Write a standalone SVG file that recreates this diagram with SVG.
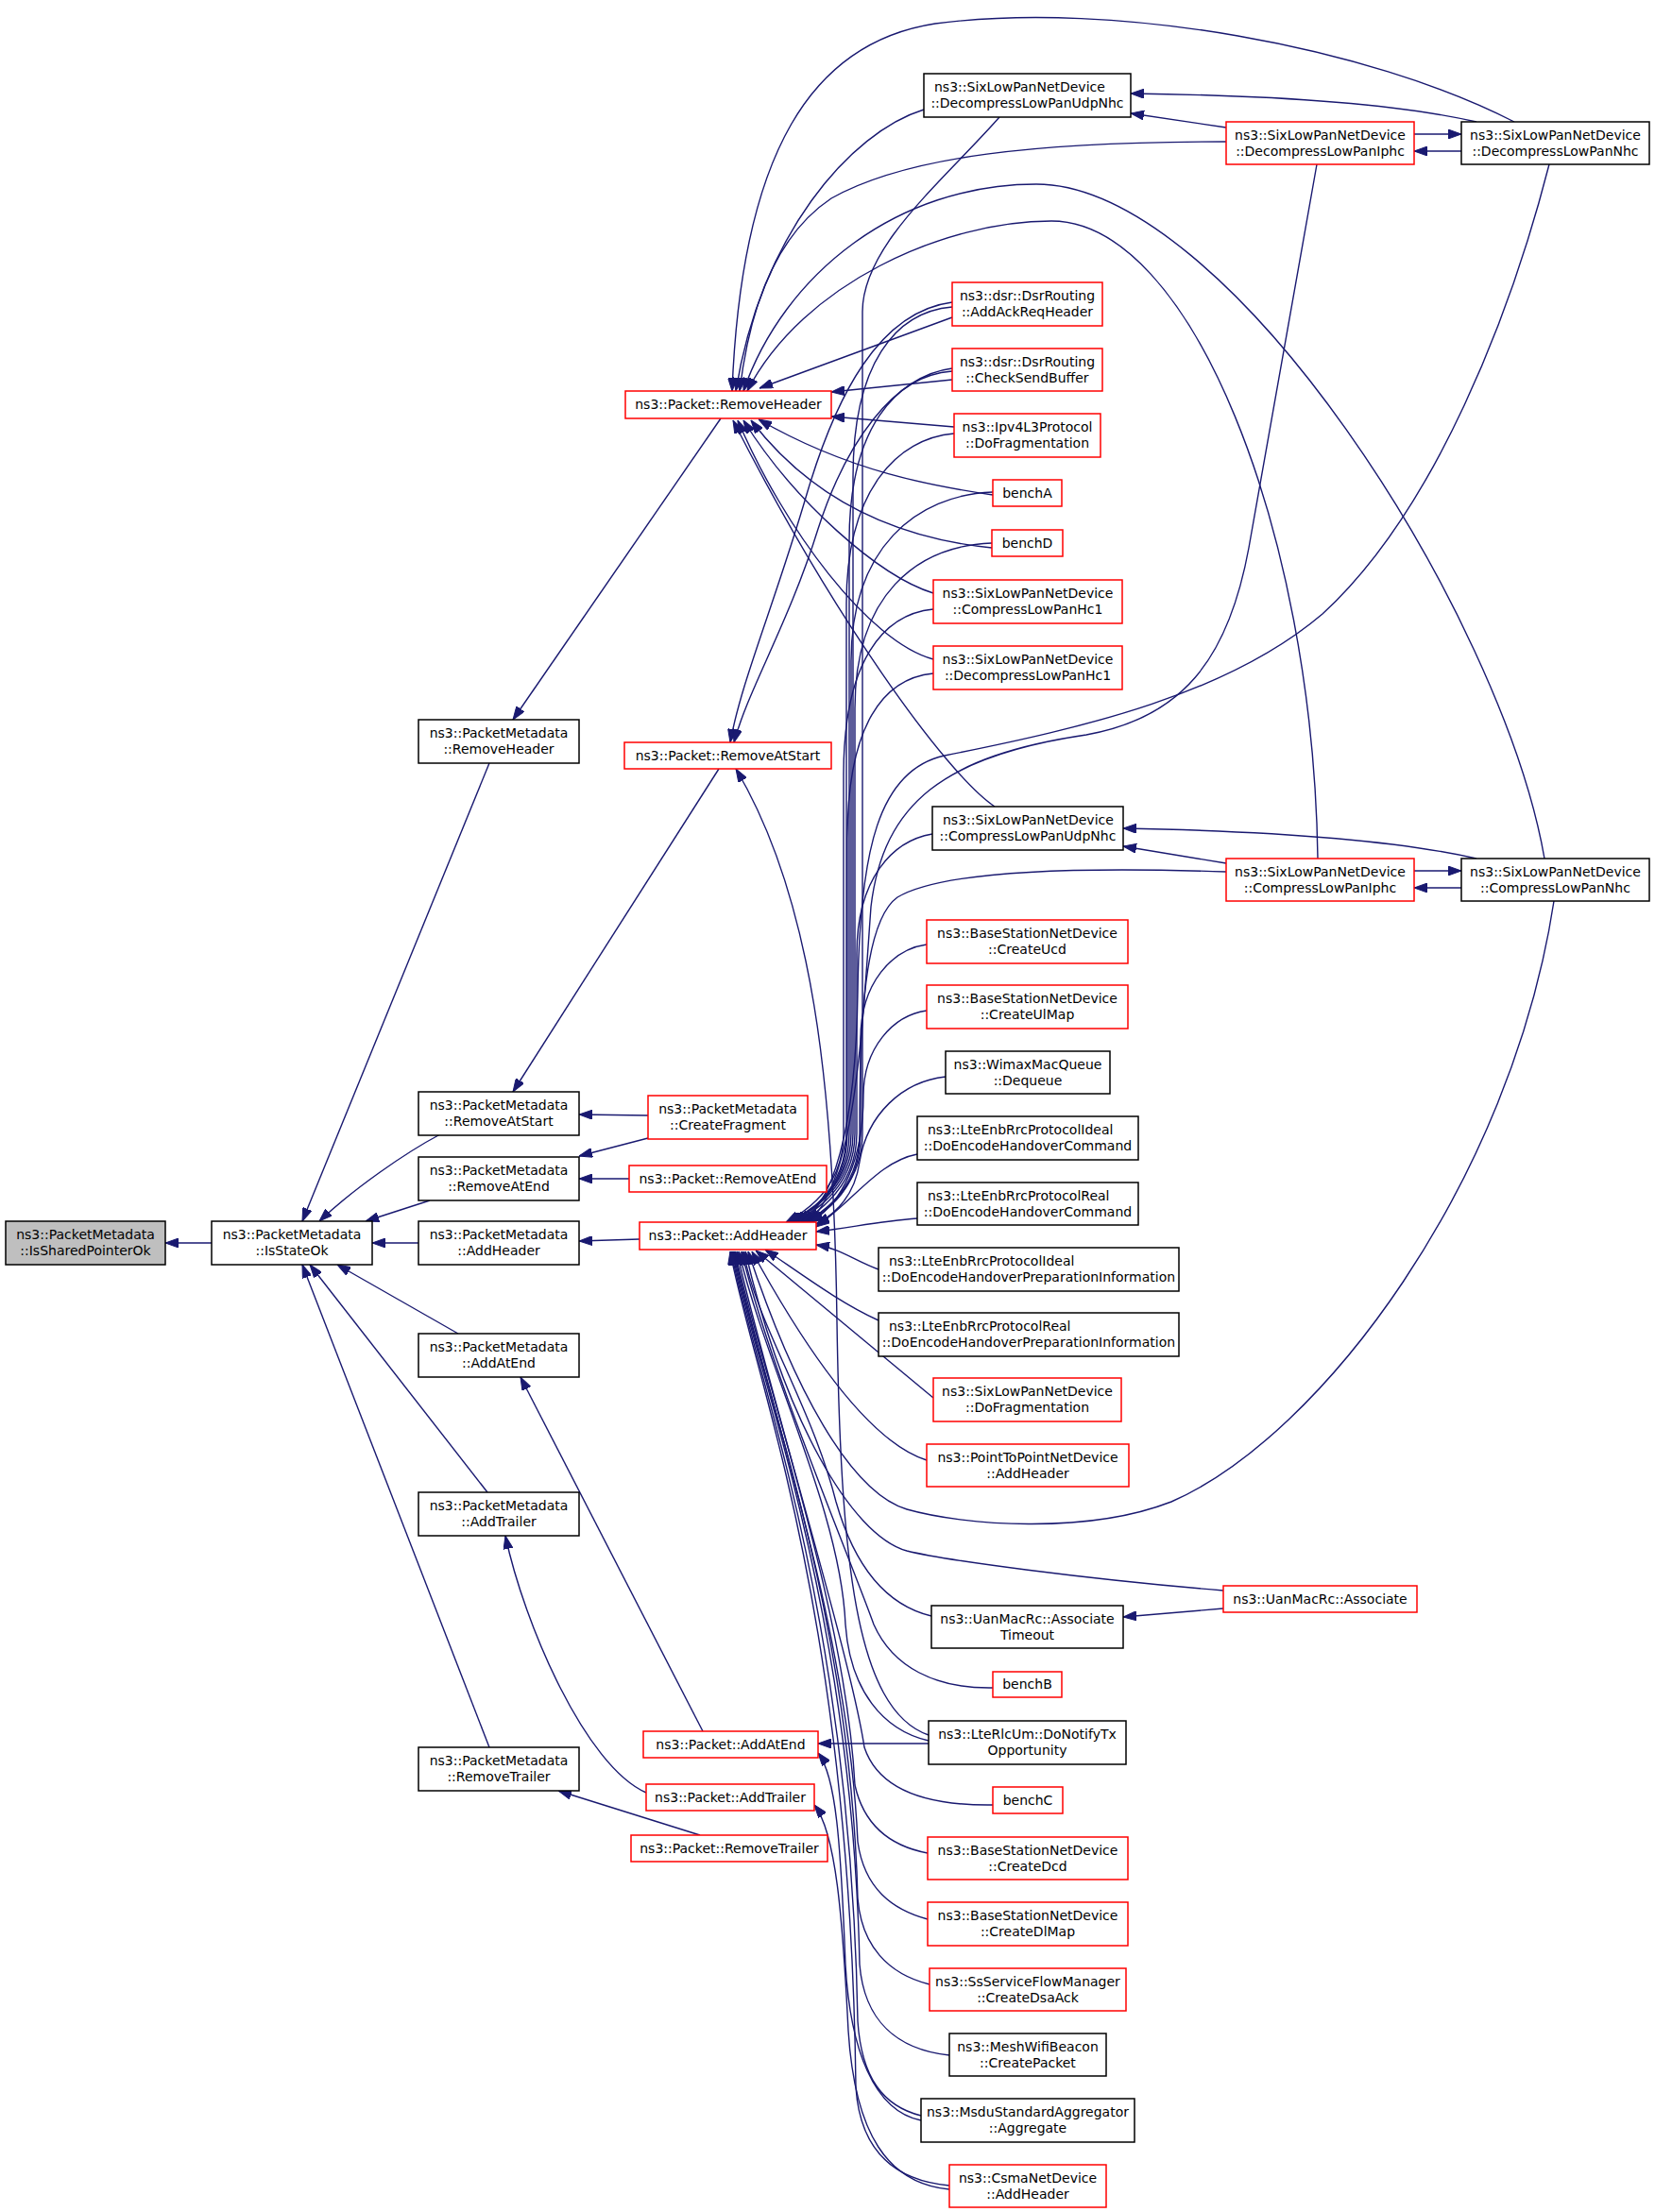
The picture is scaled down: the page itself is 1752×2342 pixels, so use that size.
<svg xmlns="http://www.w3.org/2000/svg" width="1752" height="2342" viewBox="0 0 1752 2342">
<defs>
<style>
.nd rect{fill:#ffffff;stroke:#000000;stroke-width:1.5}
.nd.red rect{stroke:#ff0000}
.nd.root rect{fill:#bfbfbf}
.nd text{font-family:"DejaVu Sans","Liberation Sans",sans-serif;font-size:14px;fill:#000000}
.c{text-anchor:middle}
.l{text-anchor:start}
#edges path{fill:none;stroke:#191970;stroke-width:1.4;marker-end:url(#ah)}
</style>
<marker id="ah" viewBox="0 0 14 10" refX="14" refY="5" markerWidth="14" markerHeight="10" markerUnits="userSpaceOnUse" orient="auto">
<path d="M0,0 L14,5 L0,10 z" fill="#191970" stroke="#191970" stroke-width="1"/>
</marker>
</defs>
<rect x="0" y="0" width="1752" height="2342" fill="#ffffff"/>
<g id="edges">
<path d="M224,1316 L175,1316"/>
<path d="M518,808 L320,1293"/>
<path d="M466,1201 C430,1220 375,1258 338,1293"/>
<path d="M455,1271 L387,1293"/>
<path d="M443,1316 L394,1316"/>
<path d="M485,1412 L357,1339"/>
<path d="M516,1580 L328,1339"/>
<path d="M518,1850 L320,1339"/>
<path d="M763,443 L543,762"/>
<path d="M761,814 L543,1156"/>
<path d="M686,1181 L613,1180"/>
<path d="M686,1205 L613,1224"/>
<path d="M666,1248 L613,1248"/>
<path d="M677,1312 L613,1314"/>
<path d="M744,1833 L551,1458"/>
<path d="M684,1898 C620,1870 555,1720 535,1626"/>
<path d="M741,1943 L591,1896"/>
<path d="M1603,129 C1450,50 1180,0 990,25 C860,45 785,160 775,414"/>
<path d="M978,116 C900,140 805,250 779,414"/>
<path d="M1298,150 C1100,150 960,165 880,210 C820,250 793,330 783,414"/>
<path d="M1635,909 C1590,650 1300,195 1097,195 C950,195 830,290 787,414"/>
<path d="M1395,909 C1390,560 1260,234 1113,234 C1000,234 850,300 791,414"/>
<path d="M1008,336 L804,411"/>
<path d="M1008,402 L880,415"/>
<path d="M1010,452 L880,441"/>
<path d="M1051,524 C990,515 900,500 803,444"/>
<path d="M1050,580 C950,570 860,530 795,445"/>
<path d="M988,628 C930,610 840,530 787,445"/>
<path d="M988,698 C920,680 830,560 781,445"/>
<path d="M1053,854 C1000,818 880,650 776,445"/>
<path d="M1008,320 C930,330 885,420 855,520 C820,640 785,720 773,786"/>
<path d="M1008,390 C945,398 895,470 866,560 C835,660 792,730 777,786"/>
<path d="M983,1837 C905,1810 890,1650 886,1400 C883,1150 860,950 779,814"/>
<path d="M1058,124 C1000,190 913,260 913,330 L913,1200 C913,1250 880,1280 852,1294"/>
<path d="M1394,174 L1322,580 C1300,700 1250,760 1150,778 C1000,800 935,850 922,960 C912,1100 905,1250 856,1294"/>
<path d="M1640,174 C1600,330 1520,540 1400,650 C1300,735 1150,770 1000,800 C930,815 910,900 908,1050 C906,1200 880,1275 848,1294"/>
<path d="M1008,325 C948,330 903,385 903,505 L903,1200 C903,1245 875,1275 836,1294"/>
<path d="M1008,393 C948,398 899,453 899,573 L899,1200 C899,1245 873,1275 838,1294"/>
<path d="M1010,459 C950,464 896,519 896,639 L896,1200 C896,1245 871,1275 840,1294"/>
<path d="M1051,521 C970,524 901,580 901,700 L901,1200 C901,1245 873,1275 834,1294"/>
<path d="M1050,575 C970,578 905,630 905,750 L905,1200 C905,1245 877,1275 842,1294"/>
<path d="M988,645 C935,650 893,700 893,820 L893,1200 C893,1245 868,1275 832,1294"/>
<path d="M988,713 C935,718 897,768 897,888 L897,1200 C897,1245 872,1275 844,1294"/>
<path d="M987,883 C945,890 907,930 907,1010 L907,1200 C907,1245 880,1275 848,1294"/>
<path d="M1298,923 C1150,918 1000,920 950,950 C915,975 910,1080 910,1200 C910,1250 882,1278 852,1294"/>
<path d="M981,1000 C945,1005 911,1040 911,1100 L911,1200 C911,1250 884,1278 855,1294"/>
<path d="M981,1070 C945,1075 914,1110 914,1160 C914,1230 890,1275 858,1294"/>
<path d="M1001,1140 C955,1145 918,1180 910,1230 C905,1265 885,1285 864,1296"/>
<path d="M971,1222 C930,1230 905,1270 864,1299"/>
<path d="M971,1290 C930,1293 900,1300 864,1304"/>
<path d="M930,1344 C905,1335 890,1322 864,1318"/>
<path d="M930,1398 C890,1380 850,1350 810,1323"/>
<path d="M988,1480 L800,1324"/>
<path d="M981,1546 C930,1530 870,1460 796,1325"/>
<path d="M1645,954 C1600,1250 1400,1520 1240,1590 C1150,1625 1020,1615 960,1598 C900,1580 840,1470 792,1325"/>
<path d="M1295,1684 C1150,1672 1000,1652 960,1642 C900,1625 830,1500 789,1325"/>
<path d="M986,1711 C940,1700 905,1660 885,1590 C860,1490 800,1400 787,1325"/>
<path d="M1051,1787 C990,1788 945,1765 925,1720 C900,1650 815,1450 785,1325"/>
<path d="M983,1843 C935,1832 900,1790 895,1720 C890,1600 812,1450 782,1325"/>
<path d="M1051,1911 C980,1912 930,1895 915,1850 C900,1750 810,1460 780,1325"/>
<path d="M982,1962 C945,1955 915,1935 905,1890 C895,1700 808,1460 778,1325"/>
<path d="M982,2032 C945,2022 915,2000 908,1950 C898,1720 806,1460 777,1325"/>
<path d="M984,2101 C940,2090 912,2060 908,2010 C900,1700 804,1460 776,1325"/>
<path d="M1005,2176 C950,2170 915,2140 910,2080 C902,1700 802,1460 775,1325"/>
<path d="M975,2240 C935,2230 912,2200 908,2140 C900,1700 800,1460 774,1325"/>
<path d="M1005,2314 C940,2308 910,2270 906,2210 C900,1700 798,1460 773,1325"/>
<path d="M983,1846 L866,1846"/>
<path d="M975,2245 C925,2235 900,2170 895,2080 C890,1950 885,1880 866,1856"/>
<path d="M1005,2318 C940,2312 905,2260 898,2150 C892,2030 885,1940 862,1911"/>
<path d="M1298,135 L1197,120"/>
<path d="M1563,129 C1480,110 1350,101 1197,99"/>
<path d="M1497,142 L1547,142"/>
<path d="M1547,160 L1497,160"/>
<path d="M1563,909 C1480,890 1350,880 1189,877"/>
<path d="M1298,914 L1189,896"/>
<path d="M1497,922 L1547,922"/>
<path d="M1547,940 L1497,940"/>
<path d="M1295,1703 L1189,1712"/>
</g>
<g id="n_issharedpointerok" class="nd root"><rect x="6" y="1293" width="169" height="46"/><text class="c" x="90.5" y="1312">ns3::PacketMetadata</text><text class="c" x="90.5" y="1329">::IsSharedPointerOk</text></g>
<g id="n_isstateok" class="nd"><rect x="224" y="1293" width="170" height="46"/><text class="c" x="309" y="1312">ns3::PacketMetadata</text><text class="c" x="309" y="1329">::IsStateOk</text></g>
<g id="n_pm_removeheader" class="nd"><rect x="443" y="762" width="170" height="46"/><text class="c" x="528" y="781">ns3::PacketMetadata</text><text class="c" x="528" y="798">::RemoveHeader</text></g>
<g id="n_pm_removeatstart" class="nd"><rect x="443" y="1156" width="170" height="46"/><text class="c" x="528" y="1175">ns3::PacketMetadata</text><text class="c" x="528" y="1192">::RemoveAtStart</text></g>
<g id="n_pm_removeatend" class="nd"><rect x="443" y="1225" width="170" height="46"/><text class="c" x="528" y="1244">ns3::PacketMetadata</text><text class="c" x="528" y="1261">::RemoveAtEnd</text></g>
<g id="n_pm_addheader" class="nd"><rect x="443" y="1293" width="170" height="46"/><text class="c" x="528" y="1312">ns3::PacketMetadata</text><text class="c" x="528" y="1329">::AddHeader</text></g>
<g id="n_pm_addatend" class="nd"><rect x="443" y="1412" width="170" height="46"/><text class="c" x="528" y="1431">ns3::PacketMetadata</text><text class="c" x="528" y="1448">::AddAtEnd</text></g>
<g id="n_pm_addtrailer" class="nd"><rect x="443" y="1580" width="170" height="46"/><text class="c" x="528" y="1599">ns3::PacketMetadata</text><text class="c" x="528" y="1616">::AddTrailer</text></g>
<g id="n_pm_removetrailer" class="nd"><rect x="443" y="1850" width="170" height="46"/><text class="c" x="528" y="1869">ns3::PacketMetadata</text><text class="c" x="528" y="1886">::RemoveTrailer</text></g>
<g id="n_p_removeheader" class="nd red"><rect x="662" y="414" width="218" height="29"/><text class="c" x="771" y="433">ns3::Packet::RemoveHeader</text></g>
<g id="n_p_removeatstart" class="nd red"><rect x="661" y="786" width="219" height="28"/><text class="c" x="770.5" y="805">ns3::Packet::RemoveAtStart</text></g>
<g id="n_pm_createfragment" class="nd red"><rect x="686" y="1160" width="169" height="46"/><text class="c" x="770.5" y="1179">ns3::PacketMetadata</text><text class="c" x="770.5" y="1196">::CreateFragment</text></g>
<g id="n_p_removeatend" class="nd red"><rect x="666" y="1234" width="209" height="28"/><text class="c" x="770.5" y="1253">ns3::Packet::RemoveAtEnd</text></g>
<g id="n_p_addheader" class="nd red"><rect x="677" y="1294" width="187" height="29"/><text class="c" x="770.5" y="1313">ns3::Packet::AddHeader</text></g>
<g id="n_p_addatend" class="nd red"><rect x="681" y="1833" width="185" height="28"/><text class="c" x="773.5" y="1852">ns3::Packet::AddAtEnd</text></g>
<g id="n_p_addtrailer" class="nd red"><rect x="684" y="1889" width="178" height="28"/><text class="c" x="773" y="1908">ns3::Packet::AddTrailer</text></g>
<g id="n_p_removetrailer" class="nd red"><rect x="668" y="1943" width="208" height="28"/><text class="c" x="772" y="1962">ns3::Packet::RemoveTrailer</text></g>
<g id="n_decompudpnhc" class="nd"><rect x="978" y="78" width="219" height="46"/><text class="l" x="989" y="97">ns3::SixLowPanNetDevice</text><text class="c" x="1087.5" y="114">::DecompressLowPanUdpNhc</text></g>
<g id="n_decompiphc" class="nd red"><rect x="1298" y="129" width="199" height="45"/><text class="c" x="1397.5" y="148">ns3::SixLowPanNetDevice</text><text class="c" x="1397.5" y="165">::DecompressLowPanIphc</text></g>
<g id="n_decompnhc" class="nd"><rect x="1547" y="129" width="199" height="45"/><text class="c" x="1646.5" y="148">ns3::SixLowPanNetDevice</text><text class="c" x="1646.5" y="165">::DecompressLowPanNhc</text></g>
<g id="n_addackreqheader" class="nd red"><rect x="1008" y="299" width="159" height="46"/><text class="c" x="1087.5" y="318">ns3::dsr::DsrRouting</text><text class="c" x="1087.5" y="335">::AddAckReqHeader</text></g>
<g id="n_checksendbuffer" class="nd red"><rect x="1008" y="369" width="159" height="45"/><text class="c" x="1087.5" y="388">ns3::dsr::DsrRouting</text><text class="c" x="1087.5" y="405">::CheckSendBuffer</text></g>
<g id="n_ipv4dofrag" class="nd red"><rect x="1010" y="438" width="155" height="46"/><text class="c" x="1087.5" y="457">ns3::Ipv4L3Protocol</text><text class="c" x="1087.5" y="474">::DoFragmentation</text></g>
<g id="n_bencha" class="nd red"><rect x="1051" y="508" width="73" height="28"/><text class="c" x="1087.5" y="527">benchA</text></g>
<g id="n_benchd" class="nd red"><rect x="1050" y="561" width="75" height="28"/><text class="c" x="1087.5" y="580">benchD</text></g>
<g id="n_comphc1" class="nd red"><rect x="988" y="614" width="200" height="46"/><text class="c" x="1088" y="633">ns3::SixLowPanNetDevice</text><text class="c" x="1088" y="650">::CompressLowPanHc1</text></g>
<g id="n_decomphc1" class="nd red"><rect x="988" y="684" width="200" height="46"/><text class="c" x="1088" y="703">ns3::SixLowPanNetDevice</text><text class="c" x="1088" y="720">::DecompressLowPanHc1</text></g>
<g id="n_compudpnhc" class="nd"><rect x="987" y="854" width="202" height="46"/><text class="l" x="998" y="873">ns3::SixLowPanNetDevice</text><text class="c" x="1088" y="890">::CompressLowPanUdpNhc</text></g>
<g id="n_compiphc" class="nd red"><rect x="1298" y="909" width="199" height="45"/><text class="c" x="1397.5" y="928">ns3::SixLowPanNetDevice</text><text class="c" x="1397.5" y="945">::CompressLowPanIphc</text></g>
<g id="n_compnhc" class="nd"><rect x="1547" y="909" width="199" height="45"/><text class="c" x="1646.5" y="928">ns3::SixLowPanNetDevice</text><text class="c" x="1646.5" y="945">::CompressLowPanNhc</text></g>
<g id="n_createucd" class="nd red"><rect x="981" y="974" width="213" height="46"/><text class="c" x="1087.5" y="993">ns3::BaseStationNetDevice</text><text class="c" x="1087.5" y="1010">::CreateUcd</text></g>
<g id="n_createulmap" class="nd red"><rect x="981" y="1043" width="213" height="46"/><text class="c" x="1087.5" y="1062">ns3::BaseStationNetDevice</text><text class="c" x="1087.5" y="1079">::CreateUlMap</text></g>
<g id="n_dequeue" class="nd"><rect x="1001" y="1113" width="174" height="45"/><text class="c" x="1088" y="1132">ns3::WimaxMacQueue</text><text class="c" x="1088" y="1149">::Dequeue</text></g>
<g id="n_lteideal_hc" class="nd"><rect x="971" y="1182" width="234" height="46"/><text class="l" x="982" y="1201">ns3::LteEnbRrcProtocolIdeal</text><text class="c" x="1088" y="1218">::DoEncodeHandoverCommand</text></g>
<g id="n_ltereal_hc" class="nd"><rect x="971" y="1252" width="234" height="45"/><text class="l" x="982" y="1271">ns3::LteEnbRrcProtocolReal</text><text class="c" x="1088" y="1288">::DoEncodeHandoverCommand</text></g>
<g id="n_lteideal_hp" class="nd"><rect x="930" y="1321" width="318" height="46"/><text class="l" x="941" y="1340">ns3::LteEnbRrcProtocolIdeal</text><text class="c" x="1089" y="1357">::DoEncodeHandoverPreparationInformation</text></g>
<g id="n_ltereal_hp" class="nd"><rect x="930" y="1390" width="318" height="46"/><text class="l" x="941" y="1409">ns3::LteEnbRrcProtocolReal</text><text class="c" x="1089" y="1426">::DoEncodeHandoverPreparationInformation</text></g>
<g id="n_slp_dofrag" class="nd red"><rect x="988" y="1459" width="199" height="46"/><text class="c" x="1087.5" y="1478">ns3::SixLowPanNetDevice</text><text class="c" x="1087.5" y="1495">::DoFragmentation</text></g>
<g id="n_p2p_addheader" class="nd red"><rect x="981" y="1529" width="214" height="45"/><text class="c" x="1088" y="1548">ns3::PointToPointNetDevice</text><text class="c" x="1088" y="1565">::AddHeader</text></g>
<g id="n_uan_associate" class="nd red"><rect x="1295" y="1679" width="205" height="28"/><text class="c" x="1397.5" y="1698">ns3::UanMacRc::Associate</text></g>
<g id="n_uan_assoctimeout" class="nd"><rect x="986" y="1700" width="203" height="45"/><text class="c" x="1087.5" y="1719">ns3::UanMacRc::Associate</text><text class="c" x="1087.5" y="1736">Timeout</text></g>
<g id="n_benchb" class="nd red"><rect x="1051" y="1770" width="73" height="27"/><text class="c" x="1087.5" y="1788">benchB</text></g>
<g id="n_lterlcum" class="nd"><rect x="983" y="1822" width="209" height="46"/><text class="c" x="1087.5" y="1841">ns3::LteRlcUm::DoNotifyTx</text><text class="c" x="1087.5" y="1858">Opportunity</text></g>
<g id="n_benchc" class="nd red"><rect x="1051" y="1892" width="74" height="28"/><text class="c" x="1088" y="1911">benchC</text></g>
<g id="n_createdcd" class="nd red"><rect x="982" y="1945" width="212" height="45"/><text class="c" x="1088" y="1964">ns3::BaseStationNetDevice</text><text class="c" x="1088" y="1981">::CreateDcd</text></g>
<g id="n_createdlmap" class="nd red"><rect x="982" y="2014" width="212" height="46"/><text class="c" x="1088" y="2033">ns3::BaseStationNetDevice</text><text class="c" x="1088" y="2050">::CreateDlMap</text></g>
<g id="n_createdsaack" class="nd red"><rect x="984" y="2084" width="208" height="45"/><text class="c" x="1088" y="2103">ns3::SsServiceFlowManager</text><text class="c" x="1088" y="2120">::CreateDsaAck</text></g>
<g id="n_meshcreatepacket" class="nd"><rect x="1005" y="2153" width="166" height="45"/><text class="c" x="1088" y="2172">ns3::MeshWifiBeacon</text><text class="c" x="1088" y="2189">::CreatePacket</text></g>
<g id="n_msduaggregate" class="nd"><rect x="975" y="2222" width="226" height="46"/><text class="c" x="1088" y="2241">ns3::MsduStandardAggregator</text><text class="c" x="1088" y="2258">::Aggregate</text></g>
<g id="n_csmaaddheader" class="nd red"><rect x="1005" y="2292" width="166" height="45"/><text class="c" x="1088" y="2311">ns3::CsmaNetDevice</text><text class="c" x="1088" y="2328">::AddHeader</text></g>
</svg>
